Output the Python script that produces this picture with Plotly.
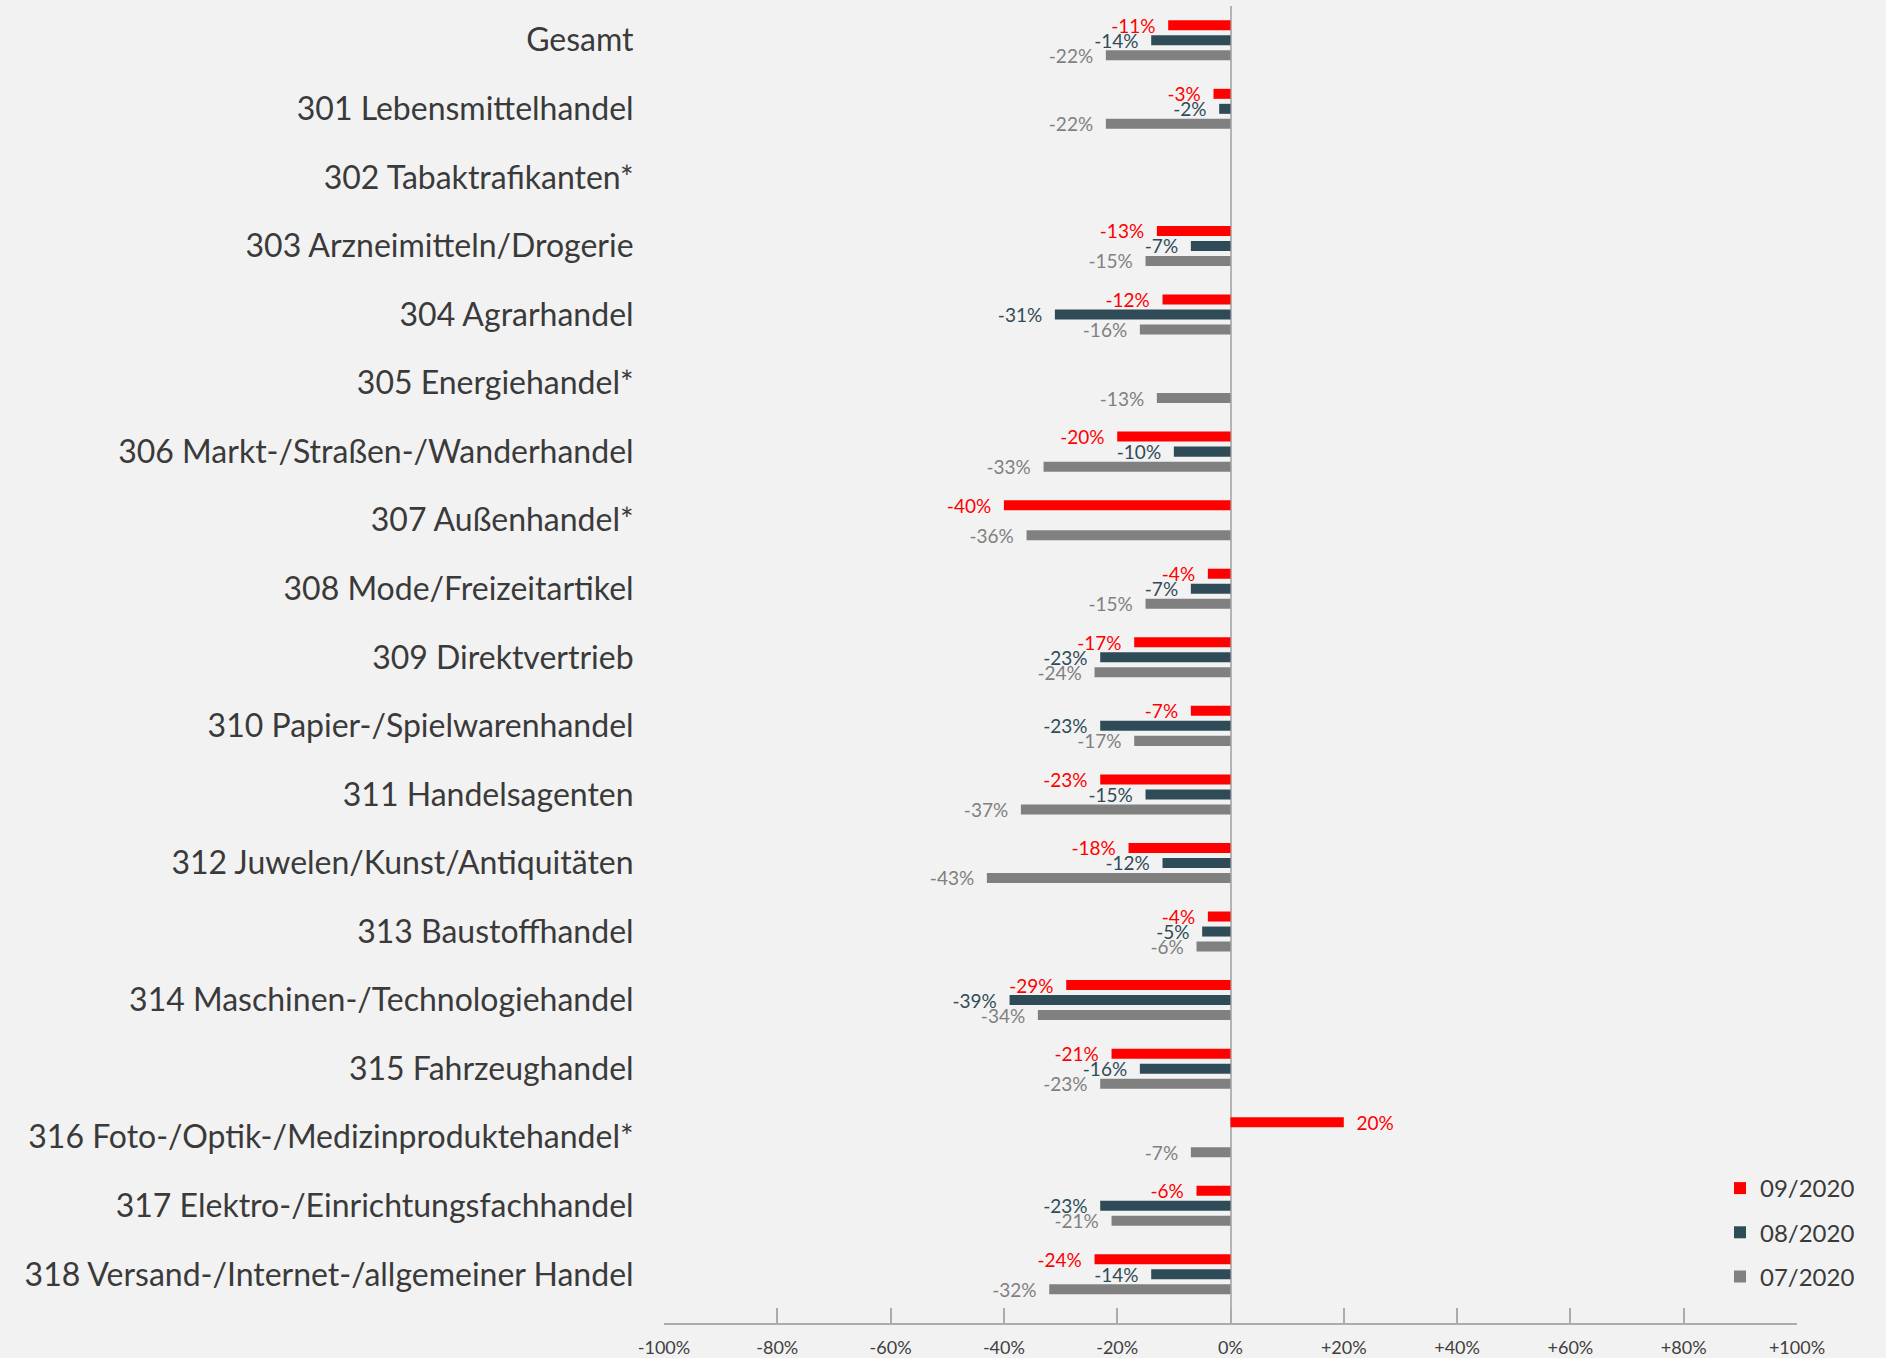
import plotly.graph_objects as go

categories = [
    "Gesamt",
    "301 Lebensmittelhandel",
    "302 Tabaktrafikanten*",
    "303 Arzneimitteln/Drogerie",
    "304 Agrarhandel",
    "305 Energiehandel*",
    "306 Markt-/Straßen-/Wanderhandel",
    "307 Außenhandel*",
    "308 Mode/Freizeitartikel",
    "309 Direktvertrieb",
    "310 Papier-/Spielwarenhandel",
    "311 Handelsagenten",
    "312 Juwelen/Kunst/Antiquitäten",
    "313 Baustoffhandel",
    "314 Maschinen-/Technologiehandel",
    "315 Fahrzeughandel",
    "316 Foto-/Optik-/Medizinproduktehandel*",
    "317 Elektro-/Einrichtungsfachhandel",
    "318 Versand-/Internet-/allgemeiner Handel",
]

sep_2020 = [-11, -3, None, -13, -12, None, -20, -40, -4, -17, -7, -23, -18, -4, -29, -21, 20, -6, -24]
aug_2020 = [-14, -2, None, -7, -31, None, -10, None, -7, -23, -23, -15, -12, -5, -39, -16, None, -23, -14]
jul_2020 = [-22, -22, None, -15, -16, -13, -33, -36, -15, -24, -17, -37, -43, -6, -34, -23, -7, -21, -32]

series_names = ["09/2020", "08/2020", "07/2020"]
series_values = [sep_2020, aug_2020, jul_2020]
series_colors = ["#FF0000", "#2F4B57", "#808080"]

tick_vals = [-100, -80, -60, -40, -20, 0, 20, 40, 60, 80, 100]
tick_text = ["-100%", "-80%", "-60%", "-40%", "-20%", "0%", "+20%", "+40%", "+60%", "+80%", "+100%"]

PAD = "\u00a0" * 2


def fmt(v):
    if v is None:
        return ""
    if v < 0:
        return f"{v}%" + PAD
    return PAD + f"{v}%"


fig = go.Figure()
for name, vals, col in zip(series_names, series_values, series_colors):
    fig.add_trace(go.Bar(
        y=categories,
        x=vals,
        name=name,
        orientation="h",
        marker=dict(color=col, line=dict(width=0)),
        text=[fmt(v) for v in vals],
        textposition="outside",
        constraintext="none",
        cliponaxis=False,
        textfont=dict(family="Lato", size=19, color=col),
        legendgroup=name,
        hoverinfo="skip",
    ))

W, H = 1886, 1358
left, right = 664, 1797
top, bottom = 6, 1323

fig.update_layout(
    width=W,
    height=H,
    paper_bgcolor="#F2F2F2",
    plot_bgcolor="#F2F2F2",
    font=dict(family="Lato", color="#3A3A3A"),
    margin=dict(l=left, r=W - right, t=top, b=H - bottom, autoexpand=False),
    barmode="group",
    bargap=0.343,
    bargroupgap=0.333,
    showlegend=True,
    legend=dict(
        xref="container", yref="container",
        x=1720 / W, y=1 - 1166 / H,
        xanchor="left", yanchor="top",
        font=dict(family="Lato", size=24, color="#3A3A3A"),
        traceorder="grouped",
        tracegroupgap=10,
        bgcolor="rgba(0,0,0,0)",
        itemwidth=30,
    ),
    xaxis=dict(
        range=[-100, 100],
        tickvals=tick_vals,
        ticktext=tick_text,
        tickfont=dict(family="Lato", size=18, color="#404040"),
        ticks="inside",
        ticklen=15,
        tickwidth=2,
        tickcolor="#ACACAC",
        ticklabelstandoff=7,
        showline=True,
        linecolor="#ACACAC",
        linewidth=2,
        showgrid=False,
        zeroline=True,
        zerolinecolor="#B4B4B4",
        zerolinewidth=2,
        automargin=False,
        fixedrange=True,
    ),
    yaxis=dict(
        categoryorder="array",
        categoryarray=categories,
        range=[18.71, -0.5],
        tickfont=dict(family="Lato", size=32, color="#3A3A3A"),
        ticks="outside",
        ticklen=23,
        tickcolor="rgba(0,0,0,0)",
        showline=False,
        showgrid=False,
        zeroline=False,
        automargin=False,
        fixedrange=True,
    ),
)

fig.write_html(
    "out.html",
    config={"displayModeBar": False},
    post_script="document.body.style.margin='0';document.body.style.background='#F2F2F2';",
)
